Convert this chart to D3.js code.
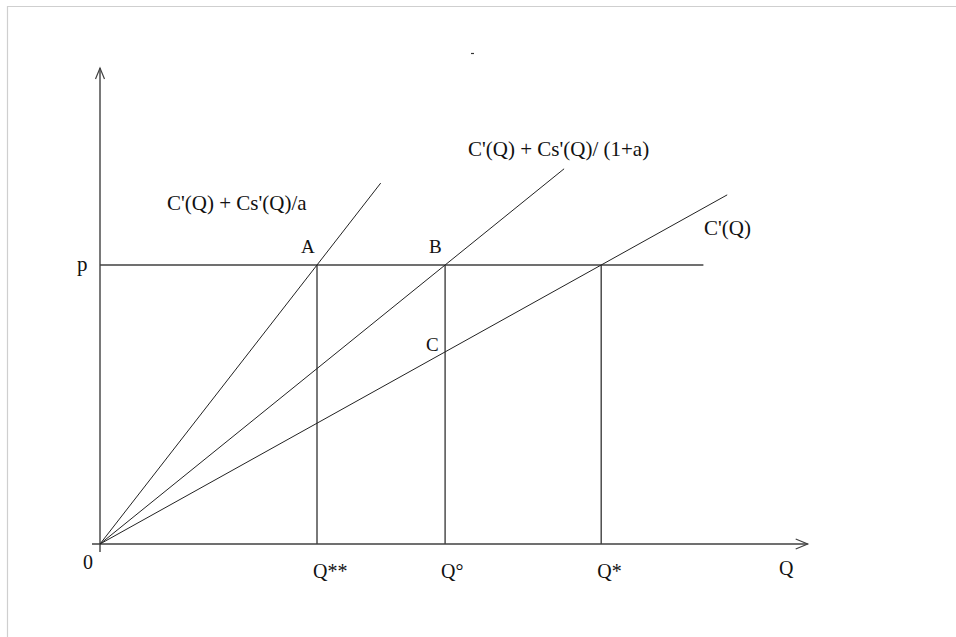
<!DOCTYPE html>
<html>
<head>
<meta charset="utf-8">
<script src="https://cdn.jsdelivr.net/npm/d3@7"></script>
<style>
  body { margin: 0; background: #fff; }
  svg text { font-family: "Liberation Serif", "DejaVu Serif", serif; fill: #111; }
</style>
</head>
<body>
<svg id="chart"></svg>
<script>
const WIDTH = 956;
const HEIGHT = 637;

// data (Q in axis units 0..100, price p = 100)
const price = 100;
const priceLabel = "p";
const curveNames = ["C'(Q) + Cs'(Q)/a", "C'(Q) + Cs'(Q)/ (1+a)", "C'(Q)"];
const curveQAtPrice = [31, 49.3, 71.6]; // Q where each curve meets p
const curveQEnd = [40.1, 66.3, 89.6];   // where each curve is drawn up to
const pointLabels = ["A", "B"];
const qLabels = ["Q**", "Q°", "Q*"];
const originLabel = "0";
const xAxisLabel = "Q";
const priceLineEnd = 86.2;

// layout
const ORIGIN_X = 100, ORIGIN_Y = 544;
const xScale = d3.scaleLinear().domain([0, 100]).range([ORIGIN_X, ORIGIN_X + 700]);
const yScale = d3.scaleLinear().domain([0, 100]).range([ORIGIN_Y, 265]);
const X_MAX = 101.1;  // x axis arrow tip
const Y_MAX = 170.6;  // y axis arrow tip
const curveLabelPos = [[167, 210], [468, 156], [704, 235]]; // pixel spots of curve names

const svg = d3.select("#chart").attr("width", WIDTH).attr("height", HEIGHT);

// faint frame at top and left (cropped screenshot edge)
svg.append("path")
  .attr("d", "M7.5," + HEIGHT + " L7.5,6.5 L" + WIDTH + ",6.5")
  .attr("fill", "none").attr("stroke", "#cfcfcf").attr("stroke-width", 1.2);

// small stray mark near the top
svg.append("line").attr("x1", 471).attr("x2", 474).attr("y1", 53.5).attr("y2", 53.5)
  .attr("stroke", "#333").attr("stroke-width", 1.2);

const axisColor = "#404040";

// axes
svg.append("line") // x axis
  .attr("x1", xScale(0) - 8).attr("x2", xScale(X_MAX))
  .attr("y1", yScale(0)).attr("y2", yScale(0))
  .attr("stroke", axisColor).attr("stroke-width", 1.4);
svg.append("line") // y axis
  .attr("x1", xScale(0)).attr("x2", xScale(0))
  .attr("y1", yScale(0) + 8).attr("y2", yScale(Y_MAX))
  .attr("stroke", axisColor).attr("stroke-width", 1.4);

// open arrow heads
svg.append("path")
  .attr("d", "M" + (xScale(X_MAX) - 12) + "," + (yScale(0) - 5) + " L" + xScale(X_MAX) + "," + yScale(0) +
             " L" + (xScale(X_MAX) - 12) + "," + (yScale(0) + 5))
  .attr("fill", "none").attr("stroke", axisColor).attr("stroke-width", 1.2);
svg.append("path")
  .attr("d", "M" + (xScale(0) - 4.5) + "," + (yScale(Y_MAX) + 11) + " L" + xScale(0) + "," + yScale(Y_MAX) +
             " L" + (xScale(0) + 4.5) + "," + (yScale(Y_MAX) + 11))
  .attr("fill", "none").attr("stroke", axisColor).attr("stroke-width", 1.2);

// price line
svg.append("line")
  .attr("x1", xScale(0)).attr("x2", xScale(priceLineEnd))
  .attr("y1", yScale(price)).attr("y2", yScale(price))
  .attr("stroke", axisColor).attr("stroke-width", 1.4);

// vertical drop lines at each Q
svg.selectAll(".drop")
  .data(curveQAtPrice)
  .enter()
  .append("line")
  .attr("class", "drop")
  .attr("x1", d => xScale(d)).attr("x2", d => xScale(d))
  .attr("y1", yScale(price)).attr("y2", yScale(0))
  .attr("stroke", axisColor).attr("stroke-width", 1.4);

// marginal cost curves through origin
const line = d3.line().x(d => xScale(d[0])).y(d => yScale(d[1]));
svg.selectAll(".curve")
  .data(curveQAtPrice)
  .enter()
  .append("path")
  .attr("class", "curve")
  .attr("d", (d, i) => line([[0, 0], [curveQEnd[i], price * curveQEnd[i] / d]]))
  .attr("fill", "none").attr("stroke", "#222").attr("stroke-width", 1);

// curve names
svg.selectAll(".curve-name")
  .data(curveNames)
  .enter()
  .append("text")
  .attr("class", "curve-name")
  .attr("x", (d, i) => curveLabelPos[i][0])
  .attr("y", (d, i) => curveLabelPos[i][1])
  .style("font-size", "21px")
  .text(d => d);

// point labels A, B on the price line
svg.selectAll(".pt")
  .data(pointLabels)
  .enter()
  .append("text")
  .attr("class", "pt")
  .attr("x", (d, i) => xScale(curveQAtPrice[i]) - 16)
  .attr("y", yScale(price) - 12)
  .style("font-size", "19px")
  .text(d => d);

// point C: C'(Q) curve at Q°
const qC = curveQAtPrice[1];
const pC = price * qC / curveQAtPrice[2];
svg.append("text")
  .attr("x", xScale(qC) - 19).attr("y", yScale(pC) - 1)
  .style("font-size", "19px")
  .text("C");

// p label
svg.append("text")
  .attr("x", xScale(0) - 23).attr("y", yScale(price) + 6)
  .style("font-size", "21px")
  .text(priceLabel);

// Q labels under the axis
svg.selectAll(".qlab")
  .data(qLabels)
  .enter()
  .append("text")
  .attr("class", "qlab")
  .attr("x", (d, i) => xScale(curveQAtPrice[i]) - 4)
  .attr("y", yScale(0) + 34)
  .style("font-size", "20px")
  .text(d => d);

svg.append("text")
  .attr("x", xScale(0) - 17).attr("y", yScale(0) + 25)
  .style("font-size", "20px")
  .text(originLabel);

svg.append("text")
  .attr("x", xScale(97)).attr("y", yScale(0) + 31)
  .style("font-size", "20px")
  .text(xAxisLabel);
</script>
</body>
</html>
